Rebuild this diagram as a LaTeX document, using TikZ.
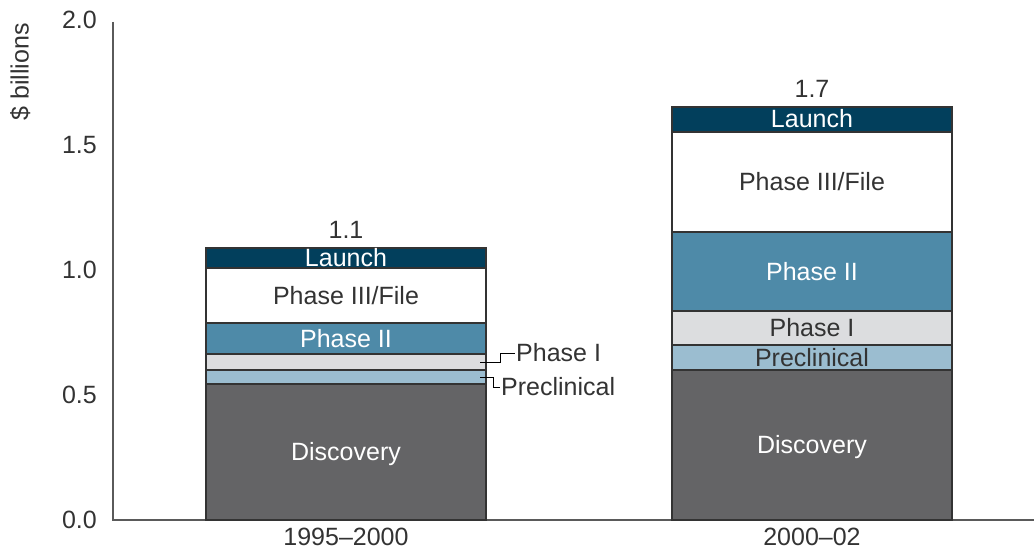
\documentclass[tikz,border=0pt]{standalone}
\usepackage{fontspec}
\setmainfont{Liberation Sans}
\usetikzlibrary{positioning}
\definecolor{launchblue}{HTML}{023F5C}
\definecolor{phasetwo}{HTML}{4E8AA8}
\definecolor{phaseone}{HTML}{DCDDDF}
\definecolor{preclin}{HTML}{9BBDD0}
\definecolor{discgray}{HTML}{646466}
\definecolor{txtgray}{HTML}{333333}
\definecolor{axisgray}{HTML}{5A5A5A}
\tikzset{
  seg/.style={draw=txtgray, line width=1.2pt, minimum width=280pt, inner sep=0pt, outer sep=0pt,
    text height=17pt, text depth=0pt, font=\fontsize{25}{30}\selectfont},
  thinseg/.style={seg, text height=0pt},
  lbl/.style={inner sep=0pt, text height=17pt, text depth=0pt, text=txtgray, font=\fontsize{25}{30}\selectfont},
  leader/.style={draw=black, line width=0.8pt},
  axis/.style={draw=axisgray, line width=1.4pt}
}

\begin{document}
\begin{tikzpicture}[x=1pt, y=1pt]
    \useasboundingbox (0,0) rectangle (1034,550);

    % axes
    \coordinate (ytop) at (113,528);
    \coordinate (origin) at (113,30);
    \coordinate (xend) at (1034,30);
    \draw[axis] (ytop) -- (origin) -- (xend);

    \foreach \lab [count=\i from 0] in {0.0,0.5,1.0,1.5,2.0}
        \node[lbl, anchor=east] (tick\i) at (97, {30+125*\i}) {\lab};
    \node[lbl, rotate=90] (ytitle) at (20,478) {\$ billions};

    % 1995-2000
    \node[seg, fill=discgray, text=white, minimum height=136pt] (adisc) at (346,98) {Discovery};
    \node[thinseg, fill=preclin, minimum height=14pt, above=0pt of adisc] (apre) {};
    \node[thinseg, fill=phaseone, minimum height=16pt, above=0pt of apre] (aphone) {};
    \node[seg, fill=phasetwo, text=white, minimum height=31pt, above=0pt of aphone] (aphtwo) {Phase II};
    \node[seg, fill=white, text=txtgray, minimum height=55pt, above=0pt of aphtwo] (aphthree) {Phase III/File};
    \node[seg, fill=launchblue, text=white, minimum height=20pt, above=0pt of aphthree] (alaunch) {Launch};
    \node[lbl, above=9pt of alaunch] (atotal) {1.1};
    \node[lbl, below=8pt of adisc] (ayear) {1995--2000};

    \coordinate (aphonetip) at ([xshift=-6pt]aphone.east);
    \coordinate (apretip) at ([xshift=-6pt]apre.east);
    \node[lbl, anchor=west, inner sep=1pt] (aphonelbl) at (515,197) {Phase I};
    \node[lbl, anchor=west, inner sep=1pt] (aprelbl) at (500,163) {Preclinical};
    \draw[leader] (aphonetip) -- ++(20,0) |- (aphonelbl.west);
    \draw[leader] (apretip) -- ++(13,0) |- (aprelbl.west);

    % 2000-02
    \node[seg, fill=discgray, text=white, minimum height=150pt] (bdisc) at (812,105) {Discovery};
    \node[seg, fill=preclin, text=txtgray, minimum height=25pt, above=0pt of bdisc] (bpre) {Preclinical};
    \node[seg, fill=phaseone, text=txtgray, minimum height=34pt, above=0pt of bpre] (bphone) {Phase I};
    \node[seg, fill=phasetwo, text=white, minimum height=79pt, above=0pt of bphone] (bphtwo) {Phase II};
    \node[seg, fill=white, text=txtgray, minimum height=100pt, above=0pt of bphtwo] (bphthree) {Phase III/File};
    \node[seg, fill=launchblue, text=white, minimum height=25pt, above=0pt of bphthree] (blaunch) {Launch};
    \node[lbl, above=9pt of blaunch] (btotal) {1.7};
    \node[lbl, below=8pt of bdisc] (byear) {2000--02};
\end{tikzpicture}
\end{document}
